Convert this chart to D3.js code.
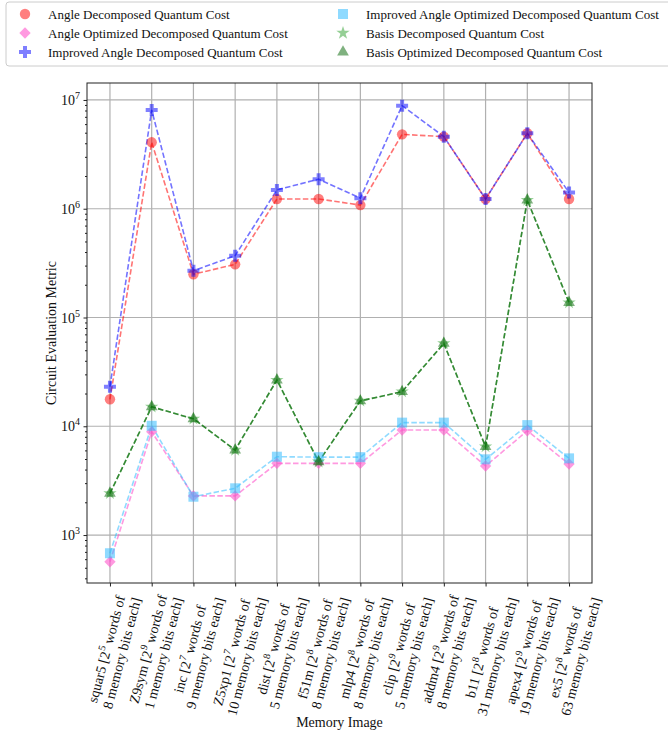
<!DOCTYPE html>
<html>
<head>
<meta charset="utf-8">
<script src="https://cdn.jsdelivr.net/npm/d3@7"></script>
<style>
  body { margin: 0; background: #fff; }
  svg { display: block; font-family: "Liberation Serif", "Times New Roman", serif; }
</style>
</head>
<body>
<svg id="chart"></svg>
<script>
// memory images (x categories)
const memNames = ["squar5", "Z9sym", "inc", "Z5xp1", "dist", "f51m", "mlp4", "clip", "addm4", "b11", "apex4", "ex5"];
const wordExps = [5, 9, 7, 7, 8, 8, 8, 9, 9, 8, 9, 8];
const bitWidths = [8, 1, 9, 10, 5, 8, 8, 5, 8, 31, 19, 63];

// series values
const angleDecomposed = [17700, 4.08e6, 2.5e5, 3.08e5, 1.23e6, 1.23e6, 1.08e6, 4.83e6, 4.6e6, 1.23e6, 4.94e6, 1.23e6];
const angleOptimized = [568, 8910, 2290, 2290, 4560, 4560, 4560, 9240, 9240, 4310, 9090, 4500];
const improvedAngle = [23100, 8.09e6, 2.69e5, 3.7e5, 1.49e6, 1.87e6, 1.25e6, 8.87e6, 4.6e6, 1.23e6, 4.94e6, 1.41e6];
const improvedAngleOptimized = [680, 10100, 2250, 2690, 5250, 5200, 5200, 10800, 10800, 4970, 10250, 5070];
const basisDecomposed = [2415, 15100, 11700, 6050, 26600, 4720, 17100, 20800, 57800, 6490, 1.2e6, 1.37e5];
const basisOptimized = [2415, 15100, 11700, 6050, 26600, 4720, 17100, 20800, 57800, 6490, 1.2e6, 1.37e5];

const yMajorTicks = [1e3, 1e4, 1e5, 1e6, 1e7];

const series = [
    { name: "Angle Decomposed Quantum Cost", values: angleDecomposed, color: "red", op: 0.5, lineOp: 0.55, shape: "circle" },
    { name: "Angle Optimized Decomposed Quantum Cost", values: angleOptimized, color: "#ff55cc", op: 0.6, lineOp: 0.6, shape: "diamond" },
    { name: "Improved Angle Decomposed Quantum Cost", values: improvedAngle, color: "blue", op: 0.5, lineOp: 0.55, shape: "plus" },
    { name: "Improved Angle Optimized Decomposed Quantum Cost", values: improvedAngleOptimized, color: "#33bbff", op: 0.55, lineOp: 0.55, shape: "square" },
    { name: "Basis Decomposed Quantum Cost", values: basisDecomposed, color: "#2ca02c", op: 0.5, lineOp: 0.5, shape: "star" },
    { name: "Basis Optimized Decomposed Quantum Cost", values: basisOptimized, color: "darkgreen", op: 0.5, lineOp: 0.65, shape: "triangle" }
];

const width = 668, height = 734;
const plot = { left: 87, right: 592, top: 83, bottom: 583 };

const svg = d3.select("#chart").attr("width", width).attr("height", height);

const xScale = d3.scaleLinear()
    .domain([-0.55, memNames.length - 1 + 0.55])
    .range([plot.left, plot.right]);

const yScale = d3.scaleLog()
    .domain([Math.pow(10, 2.559), Math.pow(10, 7.156)])
    .range([plot.bottom, plot.top]);

// grid
const idx = memNames.map((d, i) => i);
svg.append("g").selectAll("line").data(idx).join("line")
    .attr("x1", d => xScale(d)).attr("x2", d => xScale(d))
    .attr("y1", plot.top).attr("y2", plot.bottom)
    .attr("stroke", "#b0b0b0").attr("stroke-width", 1.2);
svg.append("g").selectAll("line").data(yMajorTicks).join("line")
    .attr("x1", plot.left).attr("x2", plot.right)
    .attr("y1", d => yScale(d)).attr("y2", d => yScale(d))
    .attr("stroke", "#b0b0b0").attr("stroke-width", 1.2);

// symbols
const symbolFor = {
    circle: d3.symbol().type(d3.symbolCircle).size(85),
    square: d3.symbol().type(d3.symbolSquare).size(100),
    diamond: d3.symbol().type(d3.symbolSquare).size(64),
    plus: d3.symbol().type(d3.symbolCross).size(80),
    star: d3.symbol().type(d3.symbolStar).size(55),
    triangle: d3.symbol().type(d3.symbolTriangle).size(60)
};

const line = d3.line().x((d, i) => xScale(i)).y(d => yScale(d));

series.forEach(s => {
    svg.append("path")
        .attr("d", line(s.values))
        .attr("fill", "none")
        .attr("stroke", s.color)
        .attr("stroke-opacity", s.lineOp)
        .attr("stroke-width", 1.6)
        .attr("stroke-dasharray", "5.5,2.4");
});

series.forEach(s => {
    svg.append("g").selectAll("path").data(s.values).join("path")
        .attr("d", symbolFor[s.shape])
        .attr("transform", (d, i) => `translate(${xScale(i)},${yScale(d)})` + (s.shape === "diamond" ? " rotate(45)" : ""))
        .attr("fill", s.color)
        .attr("fill-opacity", s.op);
});

// frame
svg.append("rect")
    .attr("x", plot.left).attr("y", plot.top)
    .attr("width", plot.right - plot.left).attr("height", plot.bottom - plot.top)
    .attr("fill", "none").attr("stroke", "#222").attr("stroke-width", 1);

// y axis: major + minor ticks
const minorTicks = [];
for (let e = 2; e <= 7; e++) {
    for (let m = 2; m <= 9; m++) {
        const v = m * Math.pow(10, e);
        if (v >= yScale.domain()[0] && v <= yScale.domain()[1]) minorTicks.push(v);
    }
}
const yMajor = svg.append("g")
    .attr("transform", `translate(${plot.left},0)`)
    .call(d3.axisLeft(yScale).tickValues(yMajorTicks).tickSize(3.5).tickFormat(""));
const yMinor = svg.append("g")
    .attr("transform", `translate(${plot.left},0)`)
    .call(d3.axisLeft(yScale).tickValues(minorTicks).tickSize(2).tickFormat(""));
[yMajor, yMinor].forEach(g => {
    g.select(".domain").remove();
    g.selectAll("line").attr("stroke", "#222");
});

svg.append("g").selectAll("text").data(yMajorTicks).join("text")
    .attr("x", plot.left - 7)
    .attr("y", d => yScale(d) + 5)
    .attr("text-anchor", "end")
    .attr("font-size", 14)
    .attr("fill", "#111")
    .each(function(d) {
        const t = d3.select(this);
        t.append("tspan").text("10");
        t.append("tspan").attr("dy", -6).attr("font-size", 10).text(Math.round(Math.log10(d)));
    });

// x axis ticks
const xAxis = svg.append("g")
    .attr("transform", `translate(0,${plot.bottom})`)
    .call(d3.axisBottom(xScale).tickValues(idx).tickSize(3.5).tickFormat(""));
xAxis.select(".domain").remove();
xAxis.selectAll("line").attr("stroke", "#222");

// rotated two-line x labels, centred on the tick like matplotlib
const angle = -75;
const rad = angle * Math.PI / 180;
memNames.forEach((name, i) => {
    const g = svg.append("g");
    const t = g.append("text")
        .attr("font-size", 14)
        .attr("fill", "#111")
        .attr("text-anchor", "middle")
        .attr("transform", `rotate(${angle})`);
    t.append("tspan").attr("x", 0).attr("y", 0).text(`${name} [2`);
    t.append("tspan").attr("dy", -6).attr("font-size", 10).text(wordExps[i]);
    t.append("tspan").attr("dy", 6).text("  words of");
    t.append("tspan").attr("x", 0).attr("y", 16).text(`${bitWidths[i]} memory bits each]`);

    const bb = t.node().getBBox();
    const corners = [[bb.x, bb.y], [bb.x + bb.width, bb.y], [bb.x, bb.y + bb.height], [bb.x + bb.width, bb.y + bb.height]]
        .map(([px, py]) => [px * Math.cos(rad) - py * Math.sin(rad), px * Math.sin(rad) + py * Math.cos(rad)]);
    const minX = d3.min(corners, c => c[0]), maxX = d3.max(corners, c => c[0]);
    const minY = d3.min(corners, c => c[1]);
    const cx = (minX + maxX) / 2;
    g.attr("transform", `translate(${xScale(i) + 3 - cx},${plot.bottom + 8 - minY})`);
});

// axis titles
svg.append("text")
    .attr("x", (plot.left + plot.right) / 2)
    .attr("y", 727)
    .attr("text-anchor", "middle")
    .attr("font-size", 14)
    .attr("fill", "#111")
    .text("Memory Image");

svg.append("text")
    .attr("transform", `translate(56,${(plot.top + plot.bottom) / 2}) rotate(-90)`)
    .attr("text-anchor", "middle")
    .attr("font-size", 14)
    .attr("fill", "#111")
    .text("Circuit Evaluation Metric");

// legend (two columns, column-major)
const legend = svg.append("g");
legend.append("rect")
    .attr("x", 6).attr("y", 2)
    .attr("width", 680).attr("height", 64)
    .attr("rx", 3)
    .attr("fill", "#fff").attr("fill-opacity", 0.85)
    .attr("stroke", "#cccccc");

const colX = [25, 343];
const rowY = [14, 33, 52];
series.forEach((s, i) => {
    const cx = colX[Math.floor(i / 3)], cy = rowY[i % 3];
    legend.append("path")
        .attr("d", symbolFor[s.shape])
        .attr("transform", `translate(${cx},${cy})` + (s.shape === "diamond" ? " rotate(45)" : ""))
        .attr("fill", s.color)
        .attr("fill-opacity", s.op);
    legend.append("text")
        .attr("x", cx + 23)
        .attr("y", cy + 5)
        .attr("font-size", 13)
        .attr("fill", "#111")
        .text(s.name);
});
</script>
</body>
</html>
